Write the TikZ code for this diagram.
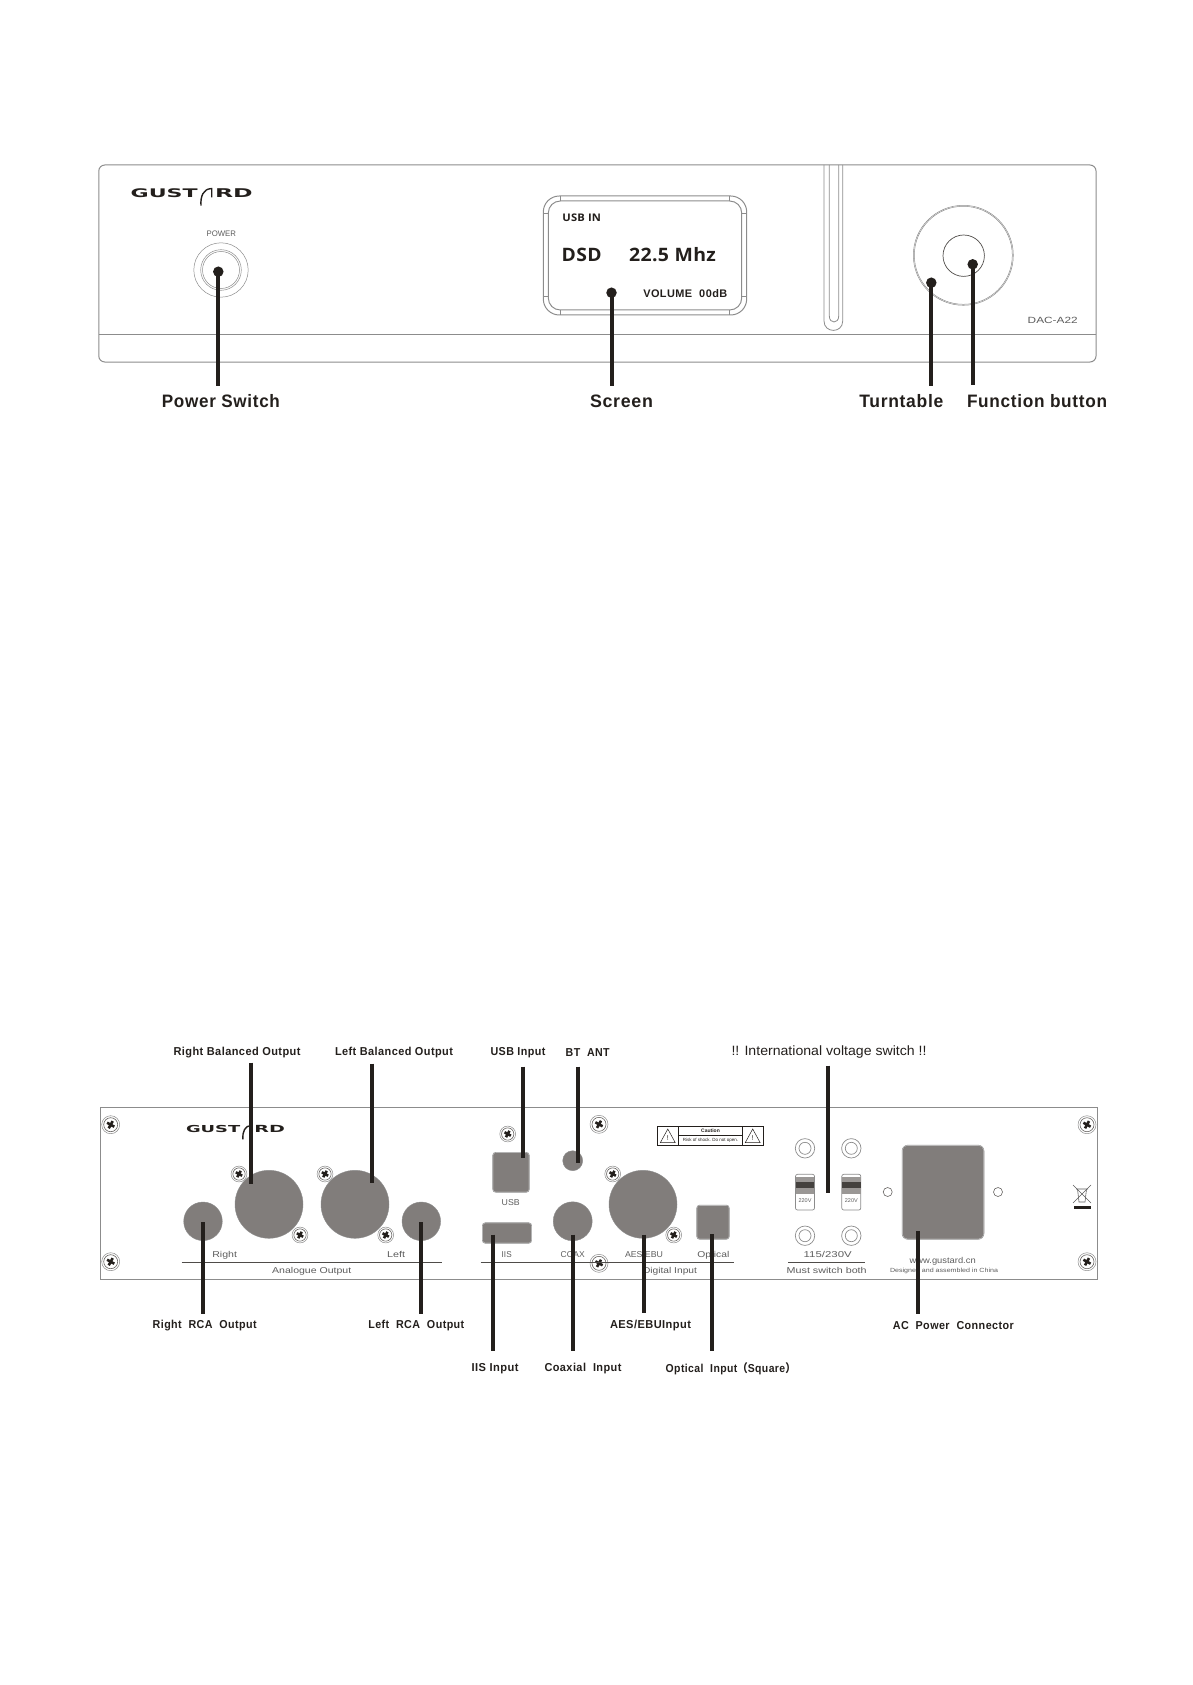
\documentclass[tikz,border=0pt]{standalone}
\usepackage{graphicx}
\usepackage{fontspec}
\setmainfont{Liberation Sans}
\newfontfamily\callfont[LetterSpace=4]{Liberation Sans}
\newfontfamily\screenfont[LetterSpace=2,BoldFont={Open Sans Bold}]{Open Sans}
\newfontfamily\logofont{DejaVu Sans}
\newfontfamily\cjkfont{Noto Sans CJK SC}
\newcommand{\fit}[2]{\resizebox{#1}{\height}{#2}}
\definecolor{leadcol}{HTML}{231F1C}
\definecolor{portcol}{HTML}{817D7B}
\definecolor{linecol}{HTML}{8C8C8C}
\definecolor{legendcol}{HTML}{5C5C5C}
\tikzset{
  thinline/.style={draw=linecol, line width=0.7pt},
  lead/.style={draw=leadcol, line width=4pt},
  leaddot/.style={circle, fill=leadcol, inner sep=0pt, minimum size=10.5pt},
  callbig/.style={inner sep=0pt, text=leadcol, font=\callfont\bfseries\fontsize{18}{18}\selectfont},
  callsmall/.style={inner sep=0pt, text=leadcol, font=\callfont\bfseries\fontsize{11.5}{11.5}\selectfont},
  legend/.style={inner sep=0pt, text=legendcol, font=\fontsize{8.5}{8.5}\selectfont},
  port/.style={circle, fill=portcol, draw=linecol, line width=0.4pt, inner sep=0pt},
  portbox/.style={fill=portcol, draw=white, line width=1pt, rounded corners=2.5pt, inner sep=0pt, outer sep=0pt},
  screenbold/.style={inner sep=0pt, text=leadcol, font=\screenfont\bfseries},
  pics/screw/.style={code={
    \draw[thinline, fill=white, line width=0.5pt] (0,0) circle (9);
    \draw[leadcol!70, line width=0.6pt] (0,0) circle (7);
    \draw[leadcol, line width=2.6pt] (-3.6,-2) -- (3.6,2) (-2,3.6) -- (2,-3.6);
  }},
  pics/logo/.style={code={
    \node[inner sep=0pt, text=leadcol, font=\logofont\bfseries\fontsize{13}{13}\selectfont] (-gu) at (33.5,0) {\resizebox{67pt}{8.8pt}{GUST}};
    \node[inner sep=0pt, text=leadcol, font=\logofont\bfseries\fontsize{13}{13}\selectfont] (-rd) at (103.2,0) {\resizebox{37.7pt}{8.8pt}{RD}};
    \draw[leadcol, line width=1.4pt] (70.3,12.7) .. controls (69.5,3) and (73,-4) .. (80,-4.3) -- (81,-4.3) -- (81,4.5);
  }},
}
\begin{document}
\begin{tikzpicture}[x=1pt, y=-1pt]
  \useasboundingbox (0,0) rectangle (1192,1685);

  % front panel
  \draw[thinline, rounded corners=6pt, line width=1pt] (98.8,165) rectangle (1096,362);
  \draw[thinline] (98.8,334) -- (1096,334);
  \pic (frontlogo) at (130.7,193) {logo};
  \node[legend, font=\fontsize{8}{8}\selectfont] (powertxt) at (221.3,233.3) {\fit{29.4pt}{POWER}};
  \node[legend, font=\fontsize{9}{9}\selectfont] (modeltxt) at (1052.7,320) {\fit{50pt}{DAC-A22}};

  \foreach \r in {27.2,20.3,18.5}
    \draw[thinline, line width=0.5pt] (221,270) circle (\r);

  % screen
  \draw[thinline, rounded corners=16pt, line width=1pt] (543.3,196) rectangle (746.7,315);
  \draw[thinline, rounded corners=12pt, line width=1pt] (548.3,201) rectangle (741.7,310);
  \draw[thinline] (560,196) -- (560,201) (560,310) -- (560,315) (729.3,196) -- (729.3,201) (729.3,310) -- (729.3,315);
  \draw[thinline] (543.3,213.3) -- (548.3,213.3) (543.3,296.7) -- (548.3,296.7) (741.7,213.3) -- (746.7,213.3) (741.7,296.7) -- (746.7,296.7);
  \node[screenbold, font=\screenfont\bfseries\fontsize{10.5}{10.5}\selectfont] (usbin) at (581.7,217.3) {\fit{38.7pt}{USB IN}};
  \node[screenbold, font=\screenfont\bfseries\fontsize{18.5}{18.5}\selectfont] (dsd) at (581.7,255) {\fit{40pt}{DSD}};
  \node[screenbold, font=\screenfont\bfseries\fontsize{18.5}{18.5}\selectfont] (rate) at (672.5,255) {\fit{87pt}{22.5 Mhz}};
  \node[screenbold, font=\callfont\bfseries\fontsize{11}{11}\selectfont] (vol) at (685.3,294) {\fit{84pt}{VOLUME~ 00dB}};

  % slot and knob
  \draw[thinline, line width=0.8pt] (824,165) -- (824,321) .. controls (824,333.5) and (842.7,333.5) .. (842.7,321) -- (842.7,165);
  \draw[thinline, line width=0.8pt] (829.3,165) -- (829.3,316) .. controls (829.3,324) and (838.7,324) .. (838.7,316) -- (838.7,165);
  \draw[thinline, line width=0.5pt] (963.3,255.3) circle (50);
  \draw[thinline, line width=0.5pt] (963.3,255.3) circle (49);
  \draw[leadcol!80, line width=0.7pt] (963.7,255.7) circle (20.7);

  % front callouts
  \node[leaddot] (powerdot) at (218.3,271.7) {};
  \node[leaddot] (screendot) at (611.5,292.7) {};
  \node[leaddot] (turndot) at (931.3,282.7) {};
  \node[leaddot] (funcdot) at (972.7,264.3) {};
  \foreach \n/\x/\y in {power/218.3/386, screen/611.5/386, turn/931.3/386, func/972.7/385} {
    \coordinate (\n end) at (\x,\y);
    \draw[lead] (\n dot.center) -- (\n end);
  }
  \node[callbig] (powerlbl) at (220.9,401) {\fit{118pt}{Power Switch}};
  \node[callbig] (screenlbl) at (621.5,401) {\fit{63pt}{Screen}};
  \node[callbig] (turnlbl) at (901.3,401) {\fit{84pt}{Turntable}};
  \node[callbig] (funclbl) at (1037,401) {\fit{140pt}{Function button}};

  % rear panel
  \draw[thinline, line width=1pt] (100.3,1107.7) rectangle (1097.3,1279);
  \pic[scale=0.81, transform shape] (rearlogo) at (186,1129) {logo};

  \node[port, minimum size=68pt] (xlrr) at (269,1204.3) {};
  \node[port, minimum size=68pt] (xlrl) at (355,1204.3) {};
  \node[port, minimum size=38.6pt] (rcar) at (203,1221.3) {};
  \node[port, minimum size=38.6pt] (rcal) at (421.3,1221.3) {};
  \node[port, minimum size=20pt] (btant) at (572.7,1160.7) {};
  \node[port, minimum size=39pt] (coax) at (572.7,1221.3) {};
  \node[port, minimum size=68pt] (aes) at (643,1204.3) {};
  \node[portbox, minimum width=36.6pt, minimum height=40pt] (usb) at (511,1172.3) {};
  \node[portbox, minimum width=49.4pt, minimum height=20.6pt] (iis) at (507,1233) {};
  \node[portbox, minimum width=32.6pt, minimum height=34.3pt] (optical) at (713,1222.2) {};
  \node[portbox, rounded corners=5pt, minimum width=82pt, minimum height=94.3pt] (acin) at (943,1192.2) {};
  \draw[thinline, rounded corners=3pt, line width=0.5pt] (usb.south west) rectangle (usb.north east);
  \draw[thinline, rounded corners=3pt, line width=0.5pt] (iis.south west) rectangle (iis.north east);
  \draw[thinline, rounded corners=3pt, line width=0.5pt] (optical.south west) rectangle (optical.north east);
  \draw[thinline, rounded corners=6pt, line width=0.5pt] (acin.south west) rectangle (acin.north east);

  \foreach \x/\y in {110.7/1124.7, 110.7/1261.7, 1087/1124.7, 1087/1261.7, 599/1124.3, 599/1263.3}
    \pic at (\x,\y) {screw};
  \foreach \x/\y in {239/1174, 300/1235, 325/1174, 385.7/1235, 507.7/1134, 612.7/1174, 673.7/1235}
    \pic[scale=0.88, transform shape] at (\x,\y) {screw};

  % legends on the rear panel
  \node[legend] (righttxt) at (224.7,1255.7) {\fit{24.7pt}{Right}};
  \node[legend] (lefttxt) at (396,1254.7) {\fit{18pt}{Left}};
  \node[legend] (analogtxt) at (311.7,1271.7) {\fit{79pt}{Analogue Output}};
  \node[legend] (usbtxt) at (510.7,1203) {\fit{18pt}{USB}};
  \node[legend] (iistxt) at (506.7,1254.7) {\fit{10pt}{IIS}};
  \node[legend] (coaxtxt) at (572.7,1254.7) {\fit{24pt}{COAX}};
  \node[legend] (aestxt) at (644,1254.7) {\fit{38pt}{AES/EBU}};
  \node[legend] (opticaltxt) at (713.3,1255.3) {\fit{32pt}{Optical}};
  \node[legend] (digitaltxt) at (670,1271.7) {\fit{54pt}{Digital Input}};
  \node[legend] (voltstxt) at (827.7,1254.3) {\fit{48pt}{115/230V}};
  \node[legend] (bothtxt) at (826.7,1270.7) {\fit{80pt}{Must switch both}};
  \node[legend] (webtxt) at (942.7,1261.7) {\fit{66pt}{www.gustard.cn}};
  \node[legend, font=\fontsize{6}{6}\selectfont] (madetxt) at (944,1271) {\fit{108pt}{Designed and assembled in China}};
  \draw[leadcol!80, line width=0.6pt] (181.7,1262.7) -- (442.3,1262.7);
  \draw[leadcol!80, line width=0.6pt] (480.7,1262.7) -- (734,1262.7);
  \draw[leadcol!80, line width=0.6pt] (788.3,1262.7) -- (864.7,1262.7);

  % caution plate
  \draw[leadcol, line width=0.6pt] (657.7,1126.3) rectangle (763.7,1145);
  \draw[leadcol, line width=0.6pt] (678.3,1126.3) -- (678.3,1145) (742.7,1126.3) -- (742.7,1145) (678.3,1135) -- (742.7,1135);
  \node[inner sep=0pt, text=leadcol, font=\bfseries\fontsize{5}{5}\selectfont] (cautiontxt) at (710.5,1130.7) {Caution};
  \node[inner sep=0pt, text=leadcol, font=\fontsize{4.5}{4.5}\selectfont] (risktxt) at (710.5,1140) {Risk of shock. Do not open.};
  \foreach \x in {667.8,752.7} {
    \draw[leadcol, line width=0.5pt] (\x-7.5,1142.7) -- (\x,1129) -- (\x+7.5,1142.7) -- cycle;
    \node[inner sep=0pt, text=leadcol, font=\fontsize{7}{7}\selectfont] at (\x,1138.5) {!};
  }

  % voltage switches
  \foreach \x in {805,851.3} {
    \foreach \y in {1148.3,1235.7} {
      \draw[thinline] (\x,\y) circle (9.7);
      \draw[thinline] (\x,\y) circle (6);
    }
    \draw[thinline, rounded corners=2pt] (\x-9.5,1174.3) rectangle (\x+9.5,1210);
    \fill[portcol!80] (\x-9.2,1176.7) rectangle (\x+9.2,1194);
    \fill[leadcol!85] (\x-9.2,1182) rectangle (\x+9.2,1188.3);
    \node[inner sep=0pt, text=legendcol, font=\fontsize{5.5}{5.5}\selectfont] at (\x,1200.7) {220V};
  }
  \foreach \x in {887.7,998}
    \draw[leadcol!70, line width=0.6pt] (\x,1192) circle (4.5);

  % bin mark
  \draw[legendcol, line width=0.5pt] (1073,1185) -- (1091,1203) (1091,1185) -- (1073,1203);
  \draw[legendcol, line width=0.6pt] (1076,1189) -- (1088,1189) (1077.5,1189) -- (1079,1202) -- (1085,1202) -- (1086.5,1189);
  \fill[leadcol] (1073.7,1206.2) rectangle (1090.7,1208.6);

  % rear callouts
  \foreach \n/\x/\ya/\yb in {rbal/250.7/1062.7/1184.3, lbal/372.3/1063.7/1182.7, rrca/203/1222.3/1314.3,
      lrca/421.3/1222.3/1314.3, usbin/523/1066.7/1158.3, bt/578.3/1066.7/1163.3, iisin/492.7/1234.7/1350.7,
      coaxin/572.7/1234.7/1350.7, aesin/644/1234.7/1313.3, optin/712.3/1234/1350.7,
      volt/828/1065.7/1193.3, ac/918.3/1231/1314} {
    \coordinate (\n a) at (\x,\ya);
    \coordinate (\n b) at (\x,\yb);
    \draw[lead] (\n a) -- (\n b);
  }
  \node[callsmall] (rballbl) at (237,1053) {\fit{127pt}{Right Balanced Output}};
  \node[callsmall] (lballbl) at (394,1053) {\fit{118pt}{Left Balanced Output}};
  \node[callsmall] (usblbl) at (518,1053) {\fit{55pt}{USB Input}};
  \node[callsmall] (btlbl) at (587.7,1053) {\fit{44pt}{BT~ ANT}};
  \node[inner sep=0pt, text=leadcol, font=\fontsize{13.5}{13.5}\selectfont] (voltlbl) at (829,1052) {\fit{195pt}{!! International voltage switch !!}};
  \node[callsmall] (rrcalbl) at (204.7,1325.3) {\fit{104pt}{Right~ RCA~ Output}};
  \node[callsmall] (lrcalbl) at (416.3,1325.3) {\fit{96pt}{Left~ RCA~ Output}};
  \node[callsmall] (aeslbl) at (650.5,1325.3) {\fit{81pt}{AES/EBUInput}};
  \node[callsmall] (aclbl) at (953.3,1325.3) {\fit{121pt}{AC~ Power~ Connector}};
  \node[callsmall] (iislbl) at (495,1368.7) {\fit{47pt}{IIS Input}};
  \node[callsmall] (coaxlbl) at (583,1368.7) {\fit{77pt}{Coaxial~ Input}};
  \node[callsmall] (optlbl) at (730.7,1368.7) {\fit{130pt}{Optical~ Input{\cjkfont（}Square{\cjkfont）}}};
\end{tikzpicture}
\end{document}
